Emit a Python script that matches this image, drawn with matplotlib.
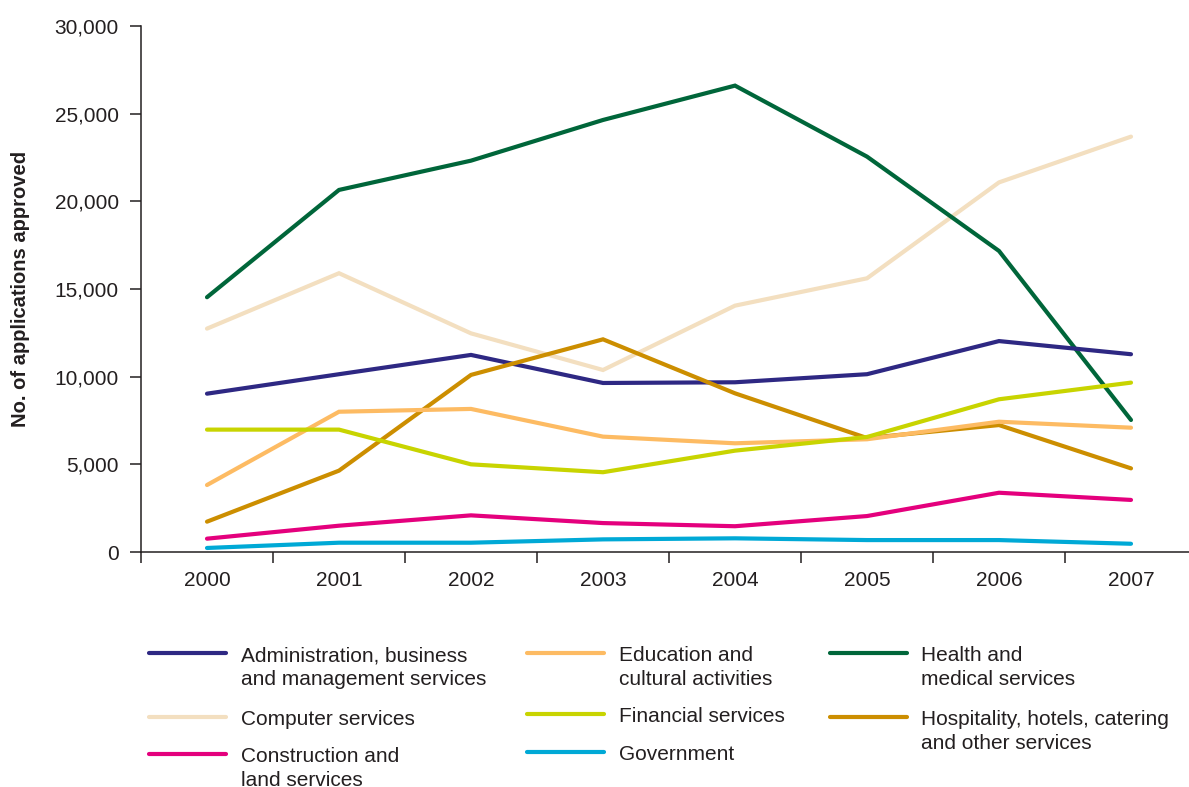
import matplotlib
matplotlib.use("Agg")
import matplotlib.pyplot as plt
from matplotlib.lines import Line2D
from matplotlib.ticker import FuncFormatter, FixedLocator, MultipleLocator

plt.rcParams["font.family"] = ["Liberation Sans", "DejaVu Sans"]

years = ["2000", "2001", "2002", "2003", "2004", "2005", "2006", "2007"]

admin = [9030, 10140, 11240, 9640, 9680, 10140, 12030, 11280]
computer = [12740, 15900, 12470, 10380, 14050, 15610, 21080, 23690]
construction = [760, 1500, 2090, 1650, 1470, 2050, 3380, 2970]
education = [3820, 8000, 8160, 6580, 6200, 6430, 7430, 7090]
financial = [6980, 6980, 5000, 4550, 5780, 6560, 8710, 9660]
government = [230, 530, 530, 720, 780, 680, 680, 470]
health = [14530, 20650, 22320, 24640, 26600, 22550, 17170, 7530]
hospitality = [1730, 4640, 10100, 12130, 9050, 6500, 7240, 4770]

series = [
    ("Administration, business\nand management services", admin, "#2e2883"),
    ("Computer services", computer, "#f3dfc0"),
    ("Construction and\nland services", construction, "#e4007d"),
    ("Education and\ncultural activities", education, "#fdbb63"),
    ("Financial services", financial, "#c8d400"),
    ("Government", government, "#00a9d6"),
    ("Health and\nmedical services", health, "#00663a"),
    ("Hospitality, hotels, catering\nand other services", hospitality, "#cc8e00"),
]

W, H = 1189, 787
fig = plt.figure(figsize=(W / 100, H / 100), dpi=100)

# axes box in pixels: left, top, right, bottom
L, T, R, B = 141, 26, 1197, 552
ax = fig.add_axes([L / W, 1 - B / H, (R - L) / W, (B - T) / H])

text_color = "#231f20"
fs = 15
x = list(range(len(years)))
draw_order = [1, 6, 0, 7, 3, 4, 2, 5]
for i in draw_order:
    label, vals, color = series[i]
    ax.plot(x, vals, color=color, lw=3.0, solid_capstyle="round",
            solid_joinstyle="miter", zorder=3)

ax.set_xlim(-0.5, len(years) - 0.5)
ax.set_ylim(0, 30000)
ax.yaxis.set_major_locator(MultipleLocator(5000))
ax.yaxis.set_major_formatter(FuncFormatter(lambda v, p: f"{int(v):,}"))

ax.set_xticks(x)
ax.set_xticklabels(years)
ax.xaxis.set_minor_locator(FixedLocator([i - 0.5 for i in range(len(years) + 1)]))
ax.tick_params(axis="x", which="major", length=0, pad=14, labelsize=fs,
               labelcolor=text_color)
ax.tick_params(axis="x", which="minor", length=8, width=1.1, direction="out",
               color=text_color)
ax.tick_params(axis="y", which="major", length=8, width=1.1, direction="out",
               pad=8, labelsize=fs, labelcolor=text_color, color=text_color)

for s in ("top", "right"):
    ax.spines[s].set_visible(False)
for s in ("left", "bottom"):
    ax.spines[s].set_linewidth(1.1)
    ax.spines[s].set_color(text_color)

fig.text(21 / W, 1 - 289 / H, "No. of applications approved", rotation=90,
         ha="center", va="center", fontsize=14.5, fontweight="bold",
         color=text_color)

# legend: three columns drawn in figure pixels
col_handle_x = [149, 527, 830]
col_text_x = [241, 619, 921]
col_rows = [[653, 717, 754], [653, 714, 752], [653, 717]]
handle_len = 77
line_step = 24
idx = 0
for c, rows in enumerate(col_rows):
    for ry in rows:
        label, vals, color = series[idx]
        idx += 1
        x0 = col_handle_x[c]
        fig.add_artist(Line2D([x0 / W, (x0 + handle_len) / W],
                              [1 - ry / H, 1 - ry / H],
                              transform=fig.transFigure, color=color, lw=3.0,
                              solid_capstyle="round"))
        lines = label.split("\n")
        for k, line in enumerate(lines):
            fig.text(col_text_x[c] / W, 1 - (ry + 8 + k * line_step) / H, line,
                     ha="left", va="baseline", fontsize=fs, color=text_color)

fig.savefig("out.png", dpi=100, facecolor="white")
